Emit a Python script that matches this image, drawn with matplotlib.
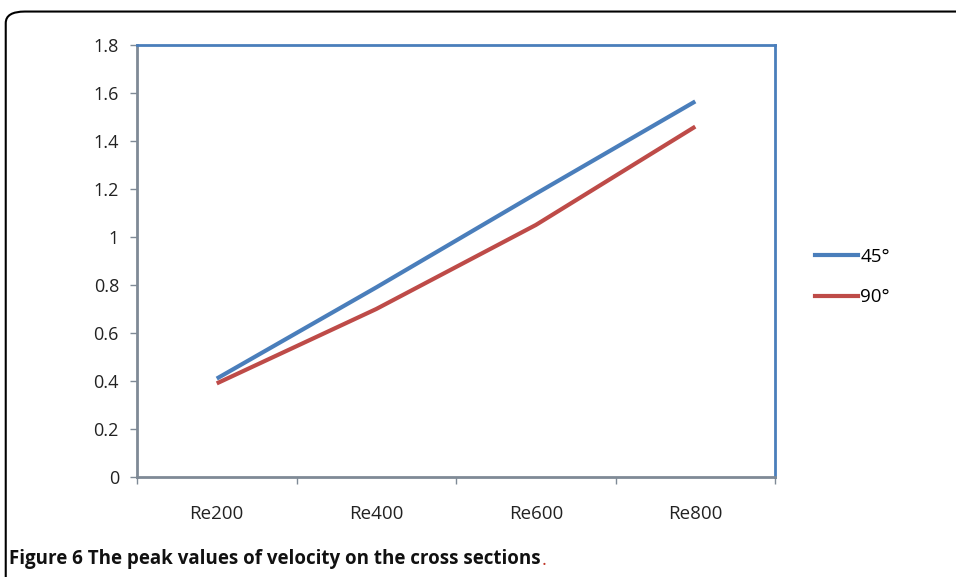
import matplotlib.pyplot as plt
from matplotlib.patches import FancyBboxPatch
from matplotlib.lines import Line2D

# data
categories = ['Re200', 'Re400', 'Re600', 'Re800']
peak_45 = [0.41, 0.79, 1.18, 1.565]
peak_90 = [0.39, 0.70, 1.05, 1.46]
series_labels = ['45°', '90°']
yticks = [0, 0.2, 0.4, 0.6, 0.8, 1, 1.2, 1.4, 1.6, 1.8]

blue = '#4a7ebb'
red = '#be4b48'

plt.rcParams['font.family'] = ['Open Sans', 'DejaVu Sans']

fig = plt.figure(figsize=(9.56, 5.77), dpi=100)

# rounded frame around the figure
frame = FancyBboxPatch((0.006, -0.2), 1.2, 1.18, boxstyle='round,pad=0,rounding_size=0.02',
                       transform=fig.transFigure, fill=False, edgecolor='black', linewidth=1.5)
fig.patches.append(frame)

ax = fig.add_axes([0.1433, 0.1733, 0.6674, 0.7487])
x = [i + 0.5 for i in range(len(categories))]
ax.plot(x, peak_45, color=blue, linewidth=3, solid_capstyle='butt')
ax.plot(x, peak_90, color=red, linewidth=3, solid_capstyle='butt')

ax.set_xlim(0, len(categories))
ax.set_ylim(0, 1.8)
ax.set_yticks(yticks)
ax.set_yticklabels([('%g' % v) for v in yticks], fontsize=13, color='#222222')
ax.set_xticks(range(len(categories) + 1))
ax.set_xticklabels([])
ax.set_xticks(x, minor=True)
ax.set_xticklabels(categories, minor=True, fontsize=13.5, color='#222222')
ax.tick_params(axis='x', which='minor', length=0, pad=20)
ax.tick_params(axis='both', which='major', length=5, color='#7f8a96', width=1)
ax.tick_params(axis='y', pad=8)

for side in ['left', 'bottom']:
    ax.spines[side].set_color('#7f8a96')
    ax.spines[side].set_linewidth(2)
for side in ['top', 'right']:
    ax.spines[side].set_color(blue)
    ax.spines[side].set_linewidth(2)

handles = [Line2D([], [], color=blue, linewidth=3),
           Line2D([], [], color=red, linewidth=3)]
fig.legend(handles, series_labels, loc='center left', bbox_to_anchor=(0.835, 0.52),
           frameon=False, fontsize=13.5, handlelength=2.3, handletextpad=0.1,
           labelspacing=1.2)

cap = fig.text(0.009, 0.022, 'Figure 6 The peak values of velocity on the cross sections',
               fontsize=13.5, fontweight='bold', ha='left', va='baseline', color='#111111')
fig.canvas.draw()
ax.annotate('.', xy=(1, 0), xycoords=cap, xytext=(1, 0), textcoords='offset points',
            fontsize=13.5, ha='left', va='bottom', color='#c0392b', annotation_clip=False)

fig.savefig('out.png', dpi=100)
